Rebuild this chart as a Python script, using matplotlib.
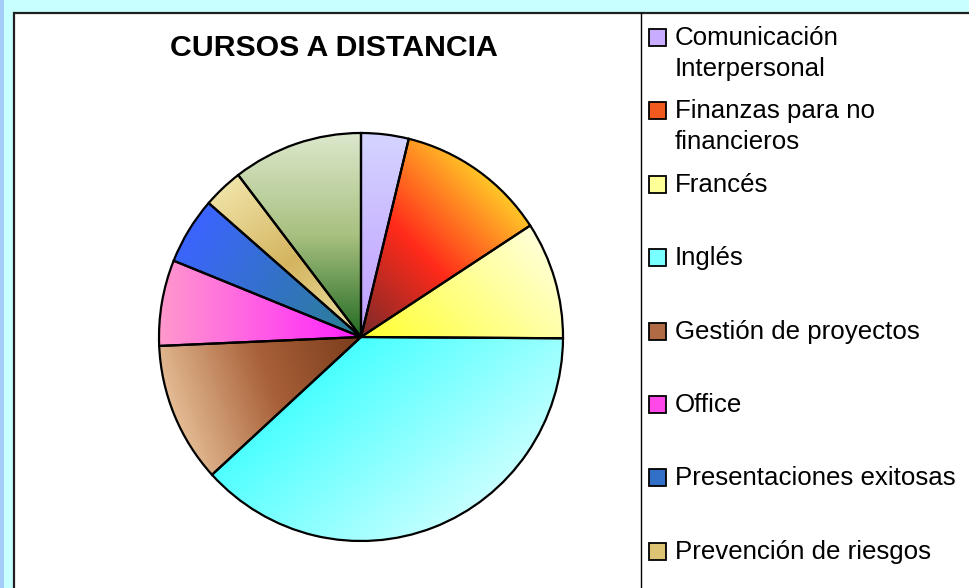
import numpy as np
import matplotlib
matplotlib.use("Agg")
from matplotlib import pyplot as plt
from matplotlib.colors import LinearSegmentedColormap
from matplotlib.patches import Rectangle

plt.rcParams["font.family"] = ["Liberation Sans", "DejaVu Sans"]

W, H = 969, 588

title = "CURSOS A DISTANCIA"
courses = [
    "Comunicación\nInterpersonal",
    "Finanzas para no\nfinancieros",
    "Francés",
    "Inglés",
    "Gestión de proyectos",
    "Office",
    "Presentaciones exitosas",
    "Prevención de riesgos",
    "Otros",
]
# share of students per course (%)
shares = [3.8, 12.0, 9.3, 38.1, 11.1, 6.8, 5.3, 3.2, 10.4]

# gradient stops and direction (degrees) for each slice, plus legend swatch colour
gradients = [
    (["#d4d4ff", "#c09cff"], -90),
    (["#ffc828", "#ff2a1a", "#7a2a2a"], -135),
    (["#ffffd8", "#ffff30"], -135),
    (["#48ffff", "#c8ffff"], -50),
    (["#7a3c1c", "#a86038", "#e4bc94"], -160),
    (["#ff99cc", "#ff20ff"], 0),
    (["#3c64ff", "#2a8090"], -35),
    (["#f0e4a8", "#d4b460", "#f0e4a8"], -60),
    (["#dce8cc", "#a8c080", "#226a22"], -90),
]
swatch = ["#c8acff", "#f05a1e", "#ffff98", "#78ffff", "#b06a44",
          "#ff48e8", "#3270c8", "#dcc474", "#8ab070"]


def px(x, y):
    return x / W, 1 - y / H


fig = plt.figure(figsize=(W / 100, H / 100), dpi=100)

# frame: blue band, cyan band, white chart area
fig.patches.append(Rectangle((0, 0), 1, 1, transform=fig.transFigure,
                             facecolor="#a4ccf8", edgecolor="none", zorder=-3))
fig.patches.append(Rectangle(px(4, 600), 1, 600 / H, transform=fig.transFigure,
                             facecolor="#c8ffff", edgecolor="none", zorder=-2))
fig.patches.append(Rectangle(px(13.5, 620), 1.1, (620 - 12.5) / H,
                             transform=fig.transFigure, facecolor="white",
                             edgecolor="#202020", linewidth=1.6, zorder=-1))
# legend box left border
fig.add_artist(plt.Line2D([640.5 / W, 640.5 / W], [0, 1 - 13 / H],
                          transform=fig.transFigure, color="black", lw=1.0))

fig.text(*px(333.5, 48), title, ha="center", va="center",
         fontsize=21.8, fontweight="bold")

# pie axes: centre (361, 337), radii ~202 x 204 px
RX, RY = 202, 204
ax = fig.add_axes([(361 - RX) / W, (H - 337 - RY) / H, 2 * RX / W, 2 * RY / H])
wedges, _ = ax.pie(shares, startangle=90, counterclock=False, radius=1,
                   wedgeprops=dict(facecolor="none", edgecolor="black",
                                   linewidth=1.6, zorder=3))
ax.set_aspect("auto")
ax.set_xlim(-1.0, 1.0)
ax.set_ylim(-1.0, 1.0)
ax.axis("off")

n = 400
gx, gy = np.meshgrid(np.linspace(-1, 1, n), np.linspace(-1, 1, n))
for w, (stops, ang) in zip(wedges, gradients):
    d = np.deg2rad(ang)
    proj = gx * np.cos(d) + gy * np.sin(d)
    verts = w.get_path().vertices
    vp = verts[:, 0] * np.cos(d) + verts[:, 1] * np.sin(d)
    t = np.clip((proj - vp.min()) / (vp.max() - vp.min() + 1e-9), 0, 1)
    cmap = LinearSegmentedColormap.from_list("g", stops)
    im = ax.imshow(t, cmap=cmap, vmin=0, vmax=1, extent=(-1, 1, -1, 1),
                   origin="lower", zorder=1, interpolation="bilinear",
                   aspect="auto")
    im.set_clip_path(w)
ax.set_xlim(-1.0, 1.0)
ax.set_ylim(-1.0, 1.0)

# legend (last entry falls below the visible area in the reference)
for i, (name, col) in enumerate(zip(courses[:8], swatch[:8])):
    base = 45 + 73.4 * i
    fig.patches.append(Rectangle(px(649, base + 1), 17 / W, 17 / H,
                                 transform=fig.transFigure, facecolor=col,
                                 edgecolor="black", linewidth=1.3))
    for j, line in enumerate(name.split("\n")):
        fig.text(*px(675, base + 31 * j), line, ha="left", va="baseline",
                 fontsize=18.6)

fig.savefig("out.png", dpi=100)
